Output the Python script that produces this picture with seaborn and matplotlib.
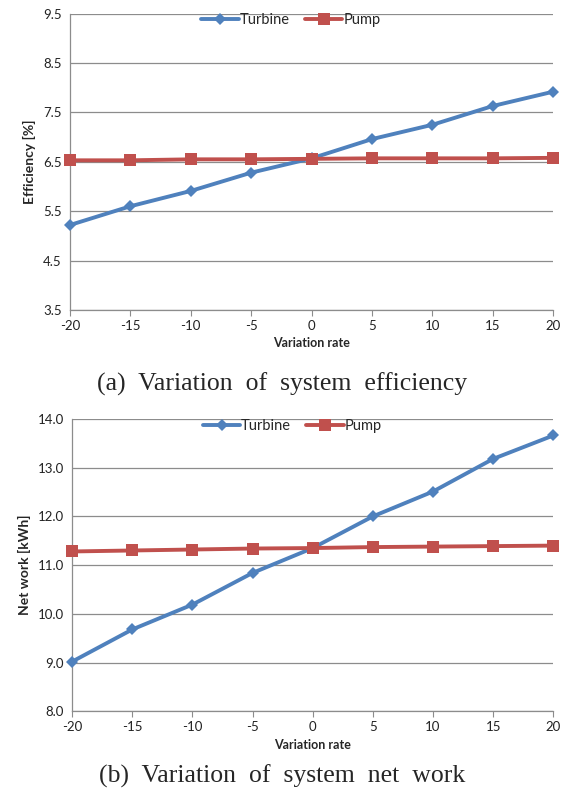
import seaborn as sns
import matplotlib.pyplot as plt
import pandas as pd

variation = [-20, -15, -10, -5, 0, 5, 10, 15, 20]
eff_turbine = [5.22, 5.60, 5.91, 6.28, 6.57, 6.96, 7.25, 7.63, 7.92]
eff_pump = [6.53, 6.53, 6.55, 6.55, 6.56, 6.57, 6.57, 6.57, 6.58]
work_turbine = [9.02, 9.68, 10.19, 10.84, 11.35, 12.00, 12.51, 13.18, 13.66]
work_pump = [11.28, 11.30, 11.32, 11.34, 11.35, 11.37, 11.38, 11.39, 11.40]

sns.set_style("white")
plt.rcParams['font.family'] = ['Lato', 'DejaVu Sans']
plt.rcParams['axes.unicode_minus'] = False

blue = '#4F81BD'
red = '#C0504D'

fig = plt.figure(figsize=(5.64, 8.01), dpi=100)
ax1 = fig.add_axes([0.124, 0.613, 0.857, 0.370])
ax2 = fig.add_axes([0.128, 0.112, 0.853, 0.365])


def draw(ax, turbine, pump, ylim, yticks, ylabel, caption, cap_y):
    df = pd.DataFrame({'x': variation, 'Turbine': turbine, 'Pump': pump})
    sns.lineplot(data=df, x='x', y='Turbine', ax=ax, color=blue, marker='D',
                 markersize=6.5, linewidth=2.8, markeredgewidth=0, label='Turbine',
                 clip_on=False, zorder=3)
    sns.lineplot(data=df, x='x', y='Pump', ax=ax, color=red, marker='s',
                 markersize=8.5, linewidth=2.8, markeredgewidth=0, label='Pump',
                 clip_on=False, zorder=3)
    ax.set_xlim(-20, 20)
    ax.set_ylim(*ylim)
    ax.set_xticks(variation)
    ax.set_yticks(yticks)
    ax.set_yticklabels(['{:.1f}'.format(v) for v in yticks])
    ax.yaxis.grid(True, color='#8c8c8c', linewidth=0.9)
    ax.set_axisbelow(True)
    for s in ['top', 'right']:
        ax.spines[s].set_visible(False)
    for s in ['left', 'bottom']:
        ax.spines[s].set_color('#8c8c8c')
        ax.spines[s].set_linewidth(0.9)
    ax.tick_params(axis='x', direction='out', length=4, color='#8c8c8c', labelsize=9.5,
                   labelcolor='#222222', pad=3, bottom=True)
    ax.tick_params(axis='y', length=0, labelsize=9.5, labelcolor='#222222', pad=6)
    ax.set_xlabel('Variation rate', fontsize=9, fontweight='bold', labelpad=4)
    ax.set_ylabel(ylabel, fontsize=10, fontweight='bold', labelpad=5)
    ax.legend(loc='upper center', ncol=2, frameon=False, fontsize=10.5,
              bbox_to_anchor=(0.457, 1.045), handlelength=2.6, columnspacing=1.0,
              handletextpad=0.05)
    fig.text(0.5, cap_y, caption, ha='center', va='center', fontsize=18.5,
             family='Liberation Serif')


draw(ax1, eff_turbine, eff_pump, (3.5, 9.5), [3.5, 4.5, 5.5, 6.5, 7.5, 8.5, 9.5],
     'Efficiency [%]', '(a)  Variation  of  system  efficiency', 1 - 384 / 801)
draw(ax2, work_turbine, work_pump, (8.0, 14.0), [8, 9, 10, 11, 12, 13, 14],
     'Net work [kWh]', '(b)  Variation  of  system  net  work', 1 - 776 / 801)

fig.savefig('out.png', dpi=100)
